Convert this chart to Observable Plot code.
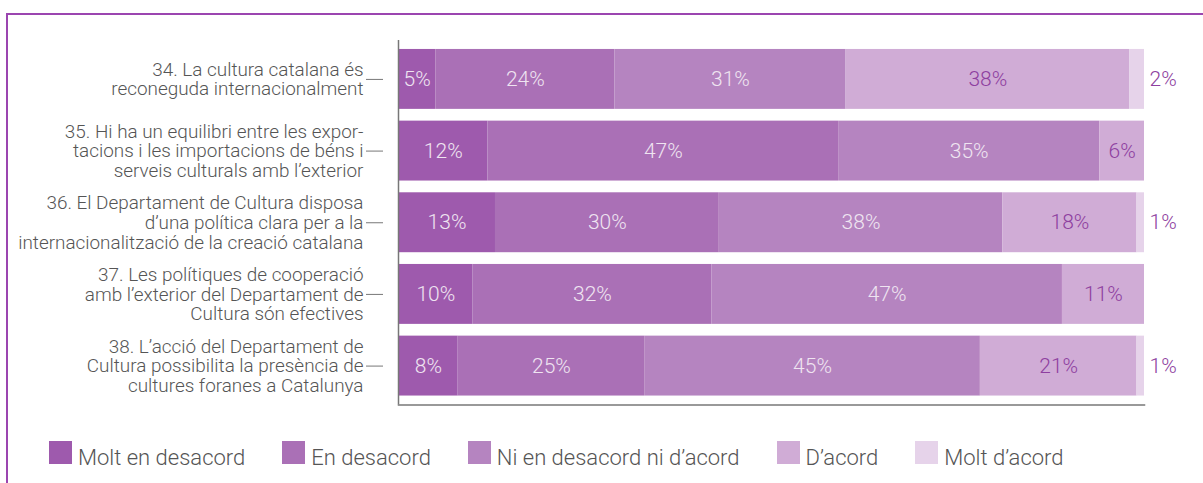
<!DOCTYPE html>
<html>
<head>
<meta charset="utf-8">
<script src="https://cdn.jsdelivr.net/npm/d3@7"></script>
<script src="https://cdn.jsdelivr.net/npm/@observablehq/plot@0.6"></script>
<style>
  html, body { margin: 0; padding: 0; background: #fff; }
  body { width: 1203px; height: 483px; position: relative; overflow: hidden; font-family: Roboto, "Noto Sans", sans-serif; font-weight: 300; }
  #frame { position: absolute; left: 6px; top: 13px; right: 0; bottom: 0; border-top: 2px solid #9b45b0; border-left: 2px solid #9b45b0; }
  #chart { position: absolute; left: 0; top: 0; }
  #legend { position: absolute; left: 49px; top: 440px; display: flex; align-items: center; color: #555; font-size: 22px; }
  .item { display: flex; align-items: center; margin-right: 37px; }
  .sw { width: 23px; height: 23px; margin-right: 6px; }
  .lab { position: relative; top: 5px; white-space: nowrap; }
</style>
</head>
<body>
<div id="frame"></div>
<div id="chart"></div>
<div id="legend"></div>
<script>
const questions = ["34", "35", "36", "37", "38"];
const questionLabels = [
  "34. La cultura catalana és\nreconeguda internacionalment",
  "35. Hi ha un equilibri entre les expor-\ntacions i les importacions de béns i\nserveis culturals amb l’exterior",
  "36. El Departament de Cultura disposa\nd’una política clara per a la\ninternacionalització de la creació catalana",
  "37. Les polítiques de cooperació\namb l’exterior del Departament de\nCultura són efectives",
  "38. L’acció del Departament de\nCultura possibilita la presència de\ncultures foranes a Catalunya"
];
const categories = ["Molt en desacord", "En desacord", "Ni en desacord ni d’acord", "D’acord", "Molt d’acord"];
const colors = ["#9e5aad", "#aa70b6", "#b584c0", "#d0acd6", "#e6d3ea"];
const moltDesacord = [5, 12, 13, 10, 8];
const desacord = [24, 47, 30, 32, 25];
const neutral = [31, 35, 38, 47, 45];
const acord = [38, 6, 18, 11, 21];
const moltAcord = [2, 0, 1, 0, 1];

const series = [moltDesacord, desacord, neutral, acord, moltAcord];
const data = questions.flatMap((q, i) => categories.map((c, j) => ({question: q, category: c, value: series[j][i]})));
const totals = new Map(questions.map((q, i) => [q, d3.sum(series, s => s[i])]));
const lastCat = categories[categories.length - 1];
const darkCats = categories.slice(0, 3);
const outside = data.filter(d => d.category === lastCat && d.value > 0);
const labelOf = new Map(questions.map((q, i) => [q, questionLabels[i]]));

const chart = Plot.plot({
  width: 1203,
  height: 420,
  marginLeft: 398,
  marginRight: 59,
  marginTop: 40,
  marginBottom: 15.5,
  style: {fontFamily: "Roboto, 'Noto Sans', sans-serif", fontWeight: 300, background: "transparent"},
  x: {domain: [0, 100], axis: null},
  y: {domain: questions, paddingInner: 0.164, paddingOuter: 0.125, axis: null, round: false},
  color: {domain: categories, range: colors},
  marks: [
    Plot.barX(data, {x: "value", y: "question", fill: "category"}),
    Plot.text(data, Plot.stackX({
      x: "value", y: "question", z: "category",
      text: d => (darkCats.includes(d.category) && d.value > 0) ? d.value + "%" : "",
      fill: "#efe4f1", fontSize: 21
    })),
    Plot.text(data, Plot.stackX({
      x: "value", y: "question", z: "category",
      text: d => (d.category === categories[3] && d.value > 0) ? d.value + "%" : "",
      fill: "#8e3fa0", fontSize: 21
    })),
    Plot.text(outside, {
      x: d => totals.get(d.question), y: "question",
      text: d => d.value + "%", textAnchor: "start", dx: 5,
      fill: "#8e3fa0", fontSize: 21
    }),
    Plot.axisY({
      tickSize: 17, tickPadding: 3, dx: -15,
      tickFormat: q => labelOf.get(q), label: null,
      fontSize: 18.9, lineHeight: 1.035, stroke: "#777", fill: "#555"
    }),
    Plot.ruleX([0], {stroke: "#777", strokeWidth: 1.5}),
    Plot.frame({anchor: "bottom", stroke: "#777", strokeWidth: 1.5})
  ]
});
document.getElementById("chart").appendChild(chart);

const legend = document.getElementById("legend");
categories.forEach((c, i) => {
  const item = document.createElement("div");
  item.className = "item";
  const sw = document.createElement("div");
  sw.className = "sw";
  sw.style.background = colors[i];
  const lab = document.createElement("span");
  lab.className = "lab";
  lab.textContent = c;
  item.appendChild(sw);
  item.appendChild(lab);
  legend.appendChild(item);
});
</script>
</body>
</html>
